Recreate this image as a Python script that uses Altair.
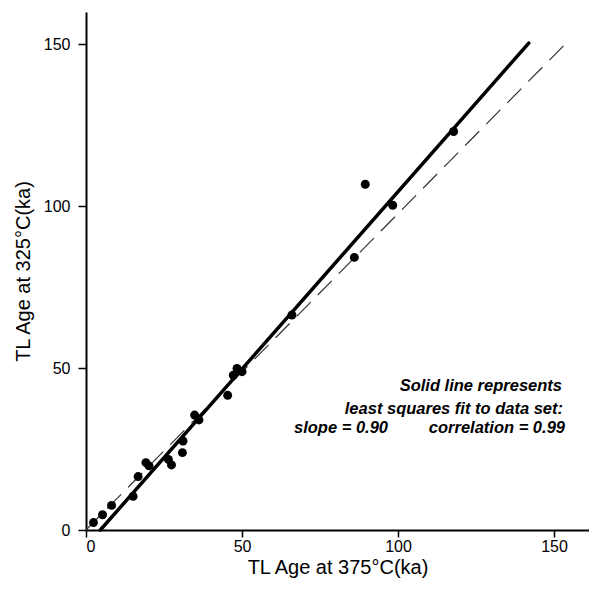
import altair as alt
import pandas as pd

# Data points (TL age at 375°C vs TL age at 325°C, ka)
age_375 = [2.4, 5.3, 8.2, 15.1, 16.7, 19.2, 20.2, 26.4, 27.4, 30.9, 31.1, 34.8, 36.2,
           45.4, 47.2, 48.4, 50.0, 66.0, 86.0, 89.5, 98.3, 117.8]
age_325 = [2.3, 4.7, 7.6, 10.4, 16.5, 20.8, 19.8, 21.8, 20.1, 23.9, 27.5, 35.5, 34.0,
           41.6, 47.8, 49.9, 48.9, 66.4, 84.2, 106.8, 100.3, 123.1]

# Least-squares fit line (solid) endpoints
fit_x = [4.6, 141.9]
fit_y = [0.0, 150.4]

# 1:1 reference line (dashed) endpoints
ref_x = [0.0, 153.9]
ref_y = [0.0, 150.4]

tick_values = [0, 50, 100, 150]

note_line1 = "Solid line represents"
note_line2 = "least squares fit to data set:"
note_slope = "slope = 0.90"
note_corr = "correlation = 0.99"

FONT = "Liberation Sans"

pts = pd.DataFrame({"x": age_375, "y": age_325})
fit = pd.DataFrame({"x": fit_x, "y": fit_y})
ref = pd.DataFrame({"x": ref_x, "y": ref_y})

xs = alt.Scale(domain=[0, 161.2], nice=False, zero=False)
ys = alt.Scale(domain=[0, 160], nice=False, zero=False)

xax = alt.Axis(values=tick_values, title="TL Age at 375°C(ka)", labelPadding=1,
               titlePadding=3, tickSize=7)
yax = alt.Axis(values=tick_values, title="TL Age at 325°C(ka)", labelPadding=8,
               titlePadding=10)

ref_line = alt.Chart(ref).mark_line(color="#333333", strokeWidth=1.2,
                                    strokeDash=[20, 10]).encode(
    x=alt.X("x:Q", scale=xs, axis=xax),
    y=alt.Y("y:Q", scale=ys, axis=yax),
)

fit_line = alt.Chart(fit).mark_line(color="black", strokeWidth=3.5,
                                    strokeCap="round").encode(
    x=alt.X("x:Q", scale=xs, axis=xax),
    y=alt.Y("y:Q", scale=ys, axis=yax),
)

points = alt.Chart(pts).mark_circle(color="black", opacity=1, size=80).encode(
    x=alt.X("x:Q", scale=xs, axis=xax),
    y=alt.Y("y:Q", scale=ys, axis=yax),
)


def note(txt, xpix, ypix, align):
    return alt.Chart(pd.DataFrame({"t": [txt]})).mark_text(
        align=align, baseline="middle", font=FONT, fontSize=16.5,
        fontStyle="italic", fontWeight="bold", color="black",
    ).encode(x=alt.value(xpix), y=alt.value(ypix), text="t:N")


notes = [
    note(note_line1, 476, 374, "right"),
    note(note_line2, 477, 397, "right"),
    note(note_slope, 208, 416, "left"),
    note(note_corr, 479, 416, "right"),
]

chart = alt.layer(ref_line, fit_line, points, *notes).properties(
    width=503,
    height=518,
    autosize=alt.AutoSizeParams(type="none"),
    padding={"left": 78, "top": 4, "right": 0, "bottom": 52},
).configure_view(
    stroke=None
).configure_axis(
    grid=False,
    domainColor="black",
    domainWidth=2,
    tickColor="black",
    tickWidth=1.5,
    tickSize=8,
    labelFont=FONT,
    labelFontSize=16,
    labelColor="black",
    titleFont=FONT,
    titleFontSize=20,
    titleFontWeight="normal",
    titleColor="black",
)

chart.save("out.html", embed_options={"renderer": "svg", "actions": False})
